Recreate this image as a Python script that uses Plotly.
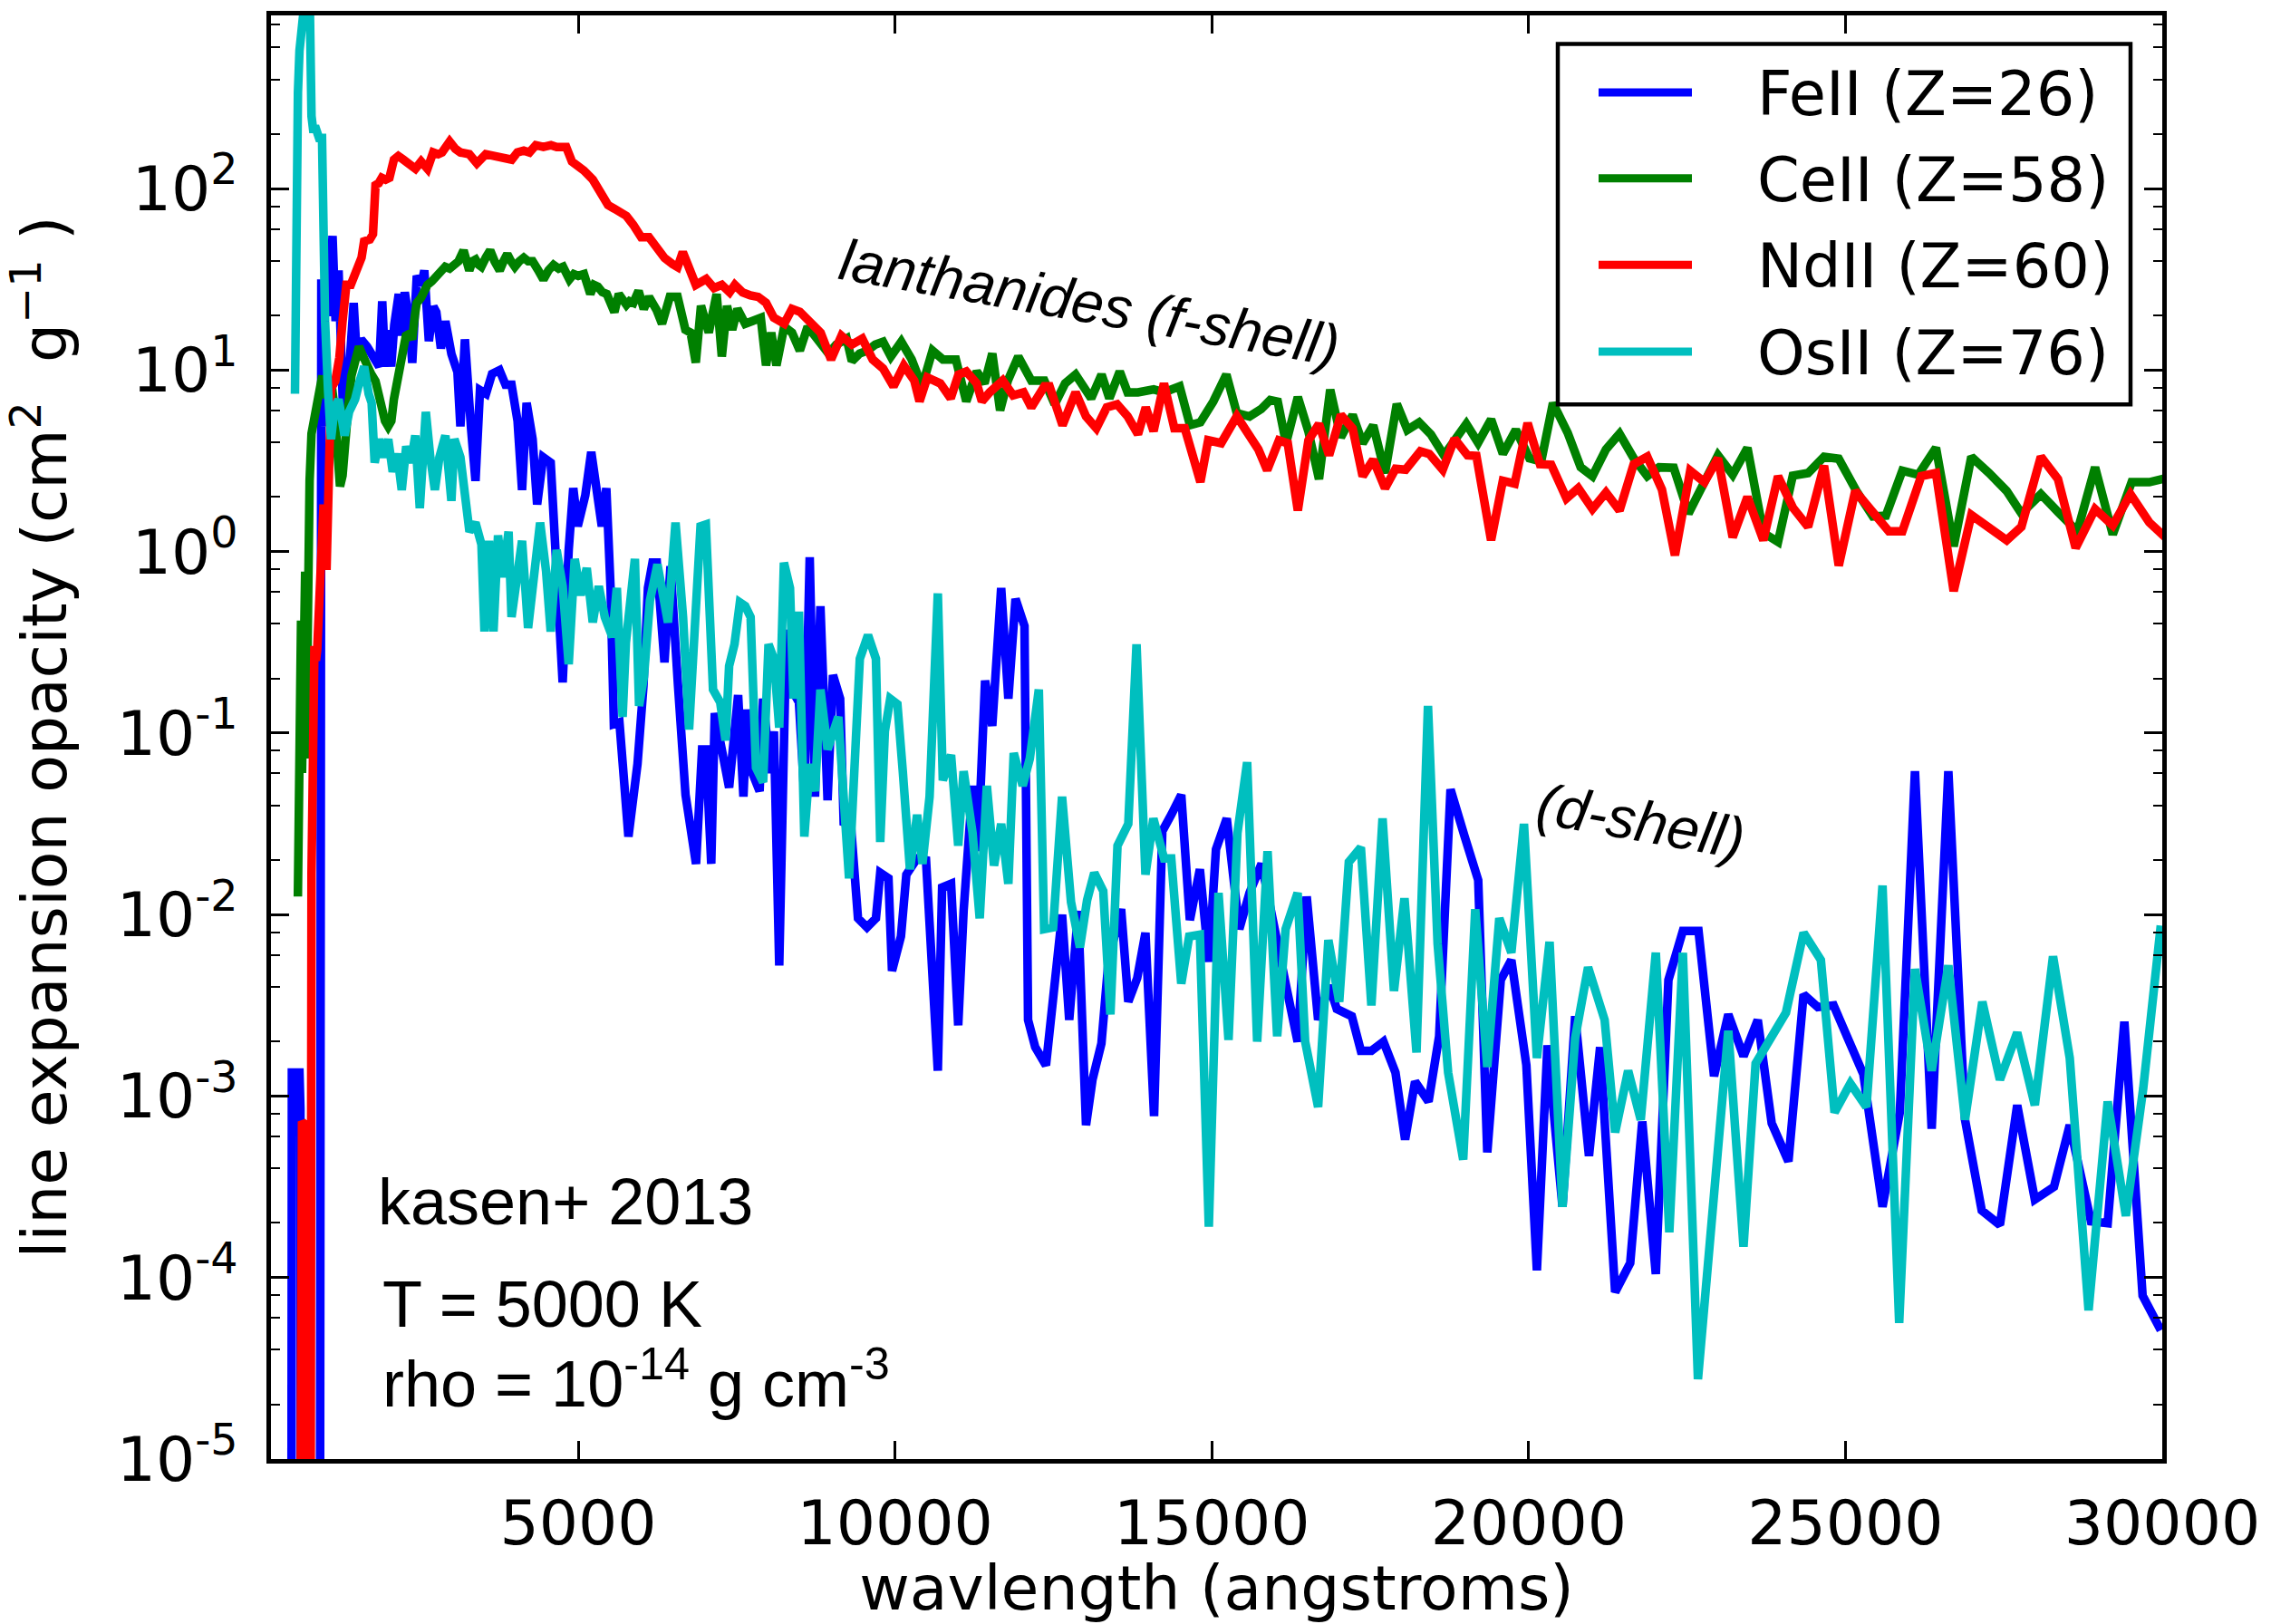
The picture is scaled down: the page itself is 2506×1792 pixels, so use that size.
import numpy as np
import plotly.graph_objects as go

# ---------------- data (wavelength in angstroms, log10 of opacity in cm^2/g) ----------------
fe_wave = [470, 480, 600, 615, 625, 920, 945, 980, 1004, 1060, 1122, 1170, 1217, 1241, 1288, 1360, 1383,
           1455, 1502, 1573, 1668, 1763, 1858, 1906, 1953, 2001, 2048, 2096, 2167, 2214, 2262, 2333, 2380,
           2452, 2523, 2570, 2642, 2713, 2760, 2832, 2903, 2998, 3093, 3140, 3211, 3306, 3378, 3449, 3544,
           3639, 3757, 3852, 3947, 4042, 4113, 4185, 4280, 4351, 4446, 4565, 4659, 4754, 4849, 4921, 4992,
           5111, 5205, 5277, 5372, 5443, 5510, 5562, 5650, 5792, 5935, 6029, 6100, 6172, 6240, 6361, 6456,
           6575, 6693, 6859, 6954,
           7014, 7099, 7155, 7268, 7381, 7523, 7607, 7664, 7749, 7862, 7918, 8031, 8088, 8172, 8285, 8370,
           8483, 8568, 8653, 8737, 8822, 8935, 9020, 9133, 9189, 9302, 9415, 9557, 9698, 9766, 9896, 9952,
           10093, 10178, 10348, 10489, 10574, 10675, 10743, 10884, 10997, 11082, 11223, 11308, 11421, 11534,
           11675, 11788, 11901, 12043, 12099, 12212, 12382, 12495, 12636, 12749, 12890, 13014, 13116, 13257,
           13370, 13568, 13681, 13822, 13952, 14088, 14218, 14359, 14517, 14653, 14811, 14952, 15065, 15235,
           15433, 15594, 15784, 16188, 16354, 16497, 16677, 16853, 16972, 17209, 17352, 17518, 17708, 17898,
           18050, 18207, 18420, 18587, 18767, 18990, 19204, 19347, 19560, 19727, 19964, 20130, 20297, 20534,
           20734, 20952, 21128, 21365, 21603, 21793, 22007, 22206, 22434, 22681, 22926, 23151, 23391, 23616,
           23836, 24100, 24339, 24564, 24813, 25283, 25585, 25858, 26097, 26361, 26624, 26887, 27151, 27438,
           27711, 27989, 28291, 28540, 28875, 29139, 29402, 29690, 29977]
fe_log_opacity = [-7, -2.87, -2.87, -3.07, -7, -7, 1.50, 0.69, 1.50, 1.30, 1.74, 1.27, 1.55, 1.30, 0.78, 0.87, 1.02,
                  1.37, 1.09, 1.17, 1.13, 1.07, 1.02, 1.38, 1.02, 1.22, 1.02, 1.25, 1.42, 1.19, 1.43, 1.27, 1.04,
                  1.52, 1.47, 1.55, 1.16, 1.35, 1.32, 1.12, 1.27, 1.09, 0.99, 0.69, 1.17, 0.69, 0.39, 0.89, 0.87,
                  0.98, 1.00, 0.92, 0.92, 0.72, 0.34, 0.82, 0.62, 0.26, 0.52, 0.49, -0.06, -0.72, 0.01, 0.35, 0.14,
                  0.31, 0.55, 0.39, 0.14, 0.35, -0.20, -0.95, -0.94, -1.57, -1.17, -0.74, -0.20, -0.06, -0.06, -0.61, -0.08,
                  -0.74, -1.34, -1.72, -1.09,
                  -1.09, -1.72, -0.89, -1.09, -1.30, -0.79, -1.35, -0.87, -1.22, -1.32, -0.81, -1.22, -0.99, -2.28, -0.43, -0.76,
                  -0.83, -1.34, -0.03, -1.35, -0.30, -1.37, -0.68, -0.81, -1.49, -1.50, -2.02, -2.07, -2.02, -1.77, -1.80, -2.31,
                  -2.12, -1.78, -1.69, -1.70, -2.18, -2.86, -1.85, -1.83, -2.61, -1.98, -1.29, -1.65, -0.71, -0.96,
                  -0.20, -0.81, -0.26, -0.41, -2.58, -2.73, -2.83, -2.48, -2.00, -2.58, -1.98, -3.16, -2.91, -2.71,
                  -2.25, -1.97, -2.48, -2.35, -2.10, -3.11, -1.54, -1.45, -1.34, -2.03, -1.75, -2.26, -1.64, -1.47,
                  -2.08, -1.88, -1.72, -2.42, -2.70, -1.90, -2.58, -2.39, -2.52, -2.56, -2.75, -2.75, -2.70, -2.87,
                  -3.24, -2.92, -3.03, -2.67, -1.31, -1.57, -1.81, -3.31, -2.36, -2.25, -2.83, -3.96, -2.72, -3.61,
                  -2.56, -3.33, -2.73, -4.08, -3.92, -3.14, -3.98, -2.36, -2.09, -2.09, -2.89, -2.55, -2.78, -2.58,
                  -3.15, -3.36, -2.44, -2.51, -2.50, -2.88, -3.61, -3.09, -1.21, -3.18, -1.21, -3.13, -3.63, -3.71,
                  -3.05, -3.57, -3.50, -3.16, -3.69, -3.70, -2.59, -4.10, -4.29]

ce_wave = [575, 585, 595, 610, 625, 640, 655, 670, 690, 705, 720, 740, 760, 790, 820, 850, 880, 920, 960, 1000,
           1050, 1100, 1150, 1200, 1240, 1280, 1320, 1370, 1420, 1480, 1540, 1600, 1660, 1730, 1800, 1850, 1900,
           1950, 2000, 2050, 2090, 2140, 2190, 2240, 2280, 2330, 2380, 2420, 2450, 2520, 2570, 2620, 2690, 2760,
           2830, 2900, 2970, 3040, 3110, 3190, 3230, 3280, 3330, 3380, 3430, 3470, 3540, 3610, 3680, 3760, 3820,
           3880, 3940, 4000, 4070, 4140, 4210, 4280, 4370, 4450, 4530, 4610, 4690, 4760, 4860, 4930, 5000, 5090,
           5190, 5250, 5310, 5380, 5450, 5510, 5570, 5640, 5700, 5760, 5810,
           5870, 5952, 6034, 6116, 6239, 6322, 6445, 6568, 6691, 6773, 6855, 6937, 7060, 7184, 7266, 7348, 7430,
           7512, 7635, 7758, 7881, 7964, 8046, 8128, 8251, 8374, 8497, 8620, 8744, 8949, 9072, 9236, 9318, 9441,
           9565, 9688, 9811, 9934, 10098, 10262, 10427, 10591, 10755, 10960, 11124, 11289, 11412, 11535, 11658,
           11781, 11945, 12151, 12356, 12520, 12684, 12849, 12972, 13095, 13259, 13382, 13546, 13670, 13834,
           14080, 14244, 14491, 14655, 14819, 15024, 15229, 15394,
           15594, 15780, 15920, 16040, 16171, 16357, 16524, 16691, 16868, 17036, 17222, 17380, 17547, 17733,
           17919, 18086, 18272, 18458, 18663, 18830, 19016, 19202, 19407, 19593, 19798, 20012, 20198, 20384,
           20616, 20821, 21007, 21220, 21434, 21658, 21872, 22058, 22290, 22523, 22755, 22988, 23220, 23453,
           23704, 23936, 24169, 24410, 24662, 24894, 25173, 25433, 25638, 25898, 26150, 26429, 26708, 26987,
           27266, 27545, 27777, 28084, 28354, 28661, 28940, 29219, 29517, 29796, 30101]
ce_log_opacity = [-1.90, -1.34, -0.58, -1.22, -0.38, -1.22, -0.38, -1.14, -0.11, -1.14, -0.10, 0.19, 0.39, 0.65, 0.72,
                  0.72, 0.80, 0.95, 0.97, 0.85, 0.88, 0.94, 0.80, 0.55, 0.36, 0.42, 0.64, 0.80, 0.97, 1.05, 1.13,
                  1.08, 1.02, 0.98, 0.94, 0.85, 0.77, 0.72, 0.69, 0.72, 0.84, 0.92, 1.02, 1.10, 1.19, 1.20, 1.17,
                  1.30, 1.37, 1.40, 1.44, 1.47, 1.49, 1.52, 1.54, 1.57, 1.56, 1.58, 1.60, 1.66, 1.60, 1.55, 1.60,
                  1.61, 1.58, 1.57, 1.62, 1.66, 1.60, 1.55, 1.60, 1.64, 1.60, 1.57, 1.60, 1.62, 1.60, 1.60, 1.55,
                  1.50, 1.55, 1.58, 1.56, 1.57, 1.50, 1.53, 1.52, 1.53, 1.42, 1.47, 1.46, 1.43, 1.42, 1.38, 1.32,
                  1.42, 1.38, 1.36, 1.38,
                  1.371, 1.437, 1.338, 1.404, 1.330, 1.256, 1.404, 1.404, 1.223, 1.207, 1.042, 1.355, 1.207, 1.420,
                  1.075, 1.355, 1.223, 1.338, 1.256, 1.272, 1.289, 1.026, 1.207, 1.026, 1.240, 1.207, 1.108, 1.240,
                  1.190, 1.092, 1.141, 1.174, 1.050, 1.092, 1.108, 1.141, 1.157, 1.075, 1.157, 1.059, 0.911, 1.108,
                  1.059, 1.059, 0.828, 0.993, 0.927, 1.092, 0.779, 0.943, 1.075, 0.943, 0.943, 0.812, 0.927, 0.976,
                  0.911, 0.845, 0.976, 0.845, 0.993, 0.878, 0.878, 0.894, 0.878, 0.911, 0.697, 0.713, 0.828, 0.976,
                  0.763,
                  0.745, 0.786, 0.836, 0.827, 0.597, 0.852, 0.663, 0.400, 0.893, 0.630, 0.753, 0.597, 0.696, 0.433,
                  0.814, 0.671, 0.712, 0.646, 0.531, 0.613, 0.704, 0.600, 0.729, 0.539, 0.671, 0.515, 0.498, 0.819,
                  0.655, 0.465, 0.416, 0.564, 0.650, 0.515, 0.416, 0.465, 0.462, 0.211, 0.367, 0.531, 0.424, 0.572,
                  0.104, 0.054, 0.419, 0.433, 0.523, 0.512, 0.334, 0.194, 0.199, 0.446, 0.424, 0.572, 0.030, 0.523,
                  0.433, 0.334, 0.211, 0.317, 0.219, 0.112, 0.465, 0.095, 0.383, 0.383, 0.408]

nd_wave = [600, 640, 690, 710, 770, 790, 836, 860, 880, 930, 980, 1027, 1060, 1098, 1165, 1230, 1280, 1340, 1410,
           1470, 1520, 1580, 1620, 1710, 1760, 1800, 1850, 1900, 1960, 2020, 2090, 2160, 2240, 2330, 2430, 2520,
           2620, 2710, 2790, 2850, 2970, 3060, 3140, 3280, 3400, 3540, 3660, 3800, 3950, 4040, 4140, 4230, 4330,
           4450, 4570, 4660, 4810, 4900, 5000, 5090, 5230, 5330, 5470, 5570, 5760, 5870,
           5993, 6116, 6239, 6363, 6486, 6568, 6650, 6732, 6855, 7019, 7143, 7266, 7389, 7471, 7594, 7717, 7840,
           7964, 8087, 8251, 8374, 8497, 8661, 8826, 8990, 9154, 9318, 9482, 9647, 9811, 9975, 10139, 10303,
           10386, 10509, 10714, 10878, 11001, 11124, 11289, 11371, 11494, 11699, 11863, 12028, 12151, 12356,
           12438, 12643, 12849, 13013, 13177, 13341, 13505, 13670, 13834, 13957, 14080, 14244, 14408, 14573,
           14819, 14942, 15147, 15394,
           15594, 15734, 15873, 16059, 16198, 16357, 16524, 16691, 16850, 17036, 17222, 17380, 17547, 17733,
           17900, 18058, 18291, 18431, 18644, 18830, 19035, 19175, 19407, 19593, 19779, 19984, 20179, 20356,
           20597, 20783, 21007, 21220, 21434, 21658, 21872, 22104, 22309, 22550, 22774, 22988, 23220, 23453,
           23704, 23936, 24169, 24410, 24662, 24894, 25154, 25433, 25685, 25898, 26196, 26429, 26708, 26987,
           27266, 27545, 27777, 28084, 28354, 28633, 28940, 29219, 29498, 29795, 30100]
nd_log_opacity = [-7, -3.14, -3.16, -7, -7, -1.77, -0.52, -0.60, -0.54, -0.10, 0.26, -0.10, 0.50, 0.90, 0.94, 1.07,
                  1.27, 1.47, 1.47, 1.53, 1.57, 1.62, 1.71, 1.72, 1.75, 2.02, 2.03, 2.06, 2.05, 2.06, 2.16, 2.18,
                  2.16, 2.14, 2.11, 2.15, 2.11, 2.20, 2.19, 2.20, 2.26, 2.22, 2.20, 2.19, 2.14, 2.19, 2.18, 2.18,
                  2.16, 2.20, 2.21, 2.20, 2.24, 2.23, 2.24, 2.23, 2.23, 2.15, 2.13, 2.10, 2.05, 2.00, 1.91, 1.89,
                  1.85, 1.80,
                  1.733, 1.733, 1.667, 1.618, 1.585, 1.568, 1.651, 1.585, 1.470, 1.503, 1.453, 1.470, 1.429, 1.470,
                  1.429, 1.412, 1.404, 1.371, 1.289, 1.256, 1.338, 1.322, 1.272, 1.207, 1.059, 1.190, 1.141, 1.174,
                  1.059, 1.009, 0.911, 1.026, 0.943, 0.828, 0.960, 0.927, 0.845, 0.976, 0.993, 0.927, 0.828, 0.878,
                  0.943, 0.861, 0.878, 0.795, 0.911, 0.911, 0.697, 0.878, 0.746, 0.680, 0.795, 0.812, 0.746, 0.647,
                  0.795, 0.664, 0.927, 0.680, 0.680, 0.384, 0.614, 0.598, 0.746,
                  0.646, 0.564, 0.449, 0.613, 0.597, 0.227, 0.613, 0.704, 0.531, 0.753, 0.679, 0.416, 0.507, 0.350,
                  0.457, 0.452, 0.553, 0.539, 0.452, 0.622, 0.531, 0.528, 0.063, 0.391, 0.375, 0.709, 0.482, 0.479,
                  0.293, 0.350, 0.235, 0.326, 0.227, 0.482, 0.523, 0.342, -0.020, 0.446, 0.383, 0.515, 0.079, 0.301,
                  0.063, 0.416, 0.243, 0.137, 0.474, -0.077, 0.334, 0.219, 0.112, 0.112, 0.416, 0.433, -0.217, 0.202,
                  0.137, 0.063, 0.137, 0.523, 0.400, 0.021, 0.235, 0.145, 0.317, 0.161, 0.063]

os_wave = [529, 540, 552, 576, 600, 624, 671, 719, 766, 790, 814, 861, 909, 956, 980, 1004, 1051, 1098, 1146,
           1217, 1265, 1312, 1383, 1478, 1550, 1621, 1692, 1739, 1787, 1858, 1929, 2001, 2072, 2143, 2214, 2285,
           2357, 2428, 2499, 2594, 2665, 2737, 2808, 2903, 2998, 3045, 3140, 3211, 3283, 3378, 3472, 3520, 3591,
           3662, 3734, 3805, 3900, 3947, 4042, 4113, 4208, 4303, 4398, 4493, 4565, 4659, 4754, 4849, 4944, 5039,
           5134, 5229, 5324, 5419, 5538, 5609, 5700, 5752, 5894, 5960, 6036, 6131, 6250, 6416, 6535, 6654, 6749,
           6844, 6930,
           7014, 7127, 7240, 7325, 7381, 7466, 7551, 7636, 7720, 7805, 7918, 8003, 8088, 8172, 8246, 8342, 8398,
           8483, 8568, 8653, 8737, 8822, 8935, 9105, 9274, 9331, 9444, 9573, 9698, 9766, 9839, 9924, 10037,
           10122, 10235, 10348, 10432, 10545, 10675, 10754, 10884, 10997, 11082, 11223, 11336, 11449, 11562,
           11675, 11788, 11873, 12014, 12127, 12269, 12353, 12495, 12636, 12777, 12918, 13031, 13144, 13286,
           13399, 13511, 13681, 13811, 13952, 14077, 14246, 14359, 14517, 14642, 14811, 14952, 15105, 15263,
           15404, 15557, 15715, 15879,
           16031, 16164, 16354, 16473, 16677, 16839, 17010, 17162, 17352, 17518, 17694, 17874, 18040, 18230,
           18411, 18563, 18729, 18967, 19157, 19347, 19537, 19727, 19926, 20130, 20330, 20534, 20734, 20938,
           21199, 21365, 21570, 21769, 22007, 22220, 22434, 22672,
           23151, 23391, 23582, 24061, 24339, 24612, 24828, 25077, 25331, 25585, 25848, 26097, 26361, 26624,
           26887, 27160, 27438, 27711, 27989, 28276, 28540, 28837, 29139, 29426, 29699, 29977]
os_log_opacity = [0.87, 1.57, 2.10, 2.53, 2.76, 2.90, 3.00, 3.00, 2.95, 2.40, 2.33, 2.33, 2.28, 2.28, 1.60, 1.27, 0.89,
                  0.62, 0.77, 0.84, 0.74, 0.64, 0.77, 0.84, 0.94, 1.02, 0.87, 0.82, 0.49, 0.62, 0.52, 0.62, 0.44,
                  0.54, 0.34, 0.58, 0.49, 0.64, 0.24, 0.77, 0.52, 0.34, 0.52, 0.64, 0.28, 0.62, 0.52, 0.26, 0.11,
                  0.16, 0.04, -0.44, 0.06, -0.44, 0.09, -0.14, 0.11, -0.36, -0.11, 0.06, -0.42, -0.11, 0.16, -0.11,
                  -0.44, 0.01, -0.19, -0.62, -0.04, -0.24, -0.09, -0.39, -0.19, -0.36, -0.47, -0.20, -0.91, -0.50,
                  -0.04, -0.85, -0.69, -0.27, -0.07, -0.39, 0.16, -0.36, -0.98, -0.39, 0.14,
                  0.15, -0.76, -0.83, -1.04, -0.63, -0.51, -0.28, -0.30, -0.36, -1.19, -1.27, -0.51, -0.59, -0.97,
                  -0.06, -0.20, -0.81, -0.33, -1.57, -1.17, -1.32, -0.76, -1.09, -0.91, -1.80, -1.35, -0.59, -0.46,
                  -0.59, -1.60, -0.99, -0.81, -0.84, -1.21, -1.75, -1.45, -1.72, -1.35, -0.23, -1.26, -1.12, -1.62,
                  -1.21, -1.55, -2.02, -1.29, -1.73, -1.50, -1.83, -1.11, -1.29, -1.14, -0.76, -2.08, -2.07, -1.35,
                  -1.93, -2.18, -1.92, -1.77, -1.87, -2.55, -1.62, -1.50, -0.51, -1.78, -1.47, -1.69, -1.69, -2.38,
                  -2.12, -2.11, -3.72, -1.88, -2.69, -1.55, -1.16, -2.70, -1.65,
                  -2.67, -2.08, -1.88, -2.70, -3.06, -2.14, -2.48, -1.71, -1.63, -2.50, -1.47, -2.42, -1.91, -2.76,
                  -0.85, -2.16, -2.87, -3.35, -1.97, -2.84, -2.02, -2.21, -1.50, -2.79, -2.15, -3.61, -2.68, -2.29,
                  -2.58, -3.20, -2.86, -3.13, -2.21, -3.75, -2.21, -4.56,
                  -2.64, -3.83, -2.82, -2.54, -2.10, -2.25, -3.09, -2.93, -3.06, -1.84, -4.25, -2.30, -2.86, -2.28,
                  -3.13, -2.48, -2.91, -2.65, -3.05, -2.23, -2.79, -4.18, -3.03, -3.66, -2.96, -2.06]

series_names = ["FeII (Z=26)", "CeII (Z=58)", "NdII (Z=60)", "OsII (Z=76)"]
series_colors = ["#0000ff", "#008000", "#ff0000", "#00bfbf"]

x_tick_vals = [5000, 10000, 15000, 20000, 25000, 30000]
x_tick_text = ["5000", "10000", "15000", "20000", "25000", "30000"]
y_tick_exponents = [-5, -4, -3, -2, -1, 0, 1, 2]

# ---------------- figure ----------------
W, H = 2506, 1792
ML, MR, MT, MB = 299, 120, 16, 162

fig = go.Figure()
waves = [fe_wave, ce_wave, nd_wave, os_wave]
logs = [fe_log_opacity, ce_log_opacity, nd_log_opacity, os_log_opacity]
for name, wv, lg, col in zip(series_names, waves, logs, series_colors):
    fig.add_trace(go.Scatter(
        x=wv, y=np.power(10.0, np.array(lg)), mode="lines", name=name,
        line=dict(color=col, width=9.5, shape="linear"), showlegend=False,
    ))

y_tick_vals = [10.0 ** e for e in y_tick_exponents]
y_tick_text = ["10<sup>%d</sup>" % e for e in y_tick_exponents]
minor_vals = [m * 10.0 ** e for e in range(-5, 3) for m in (2, 4, 6, 8)]

tickfont = dict(family="DejaVu Sans", size=68, color="black")

fig.update_xaxes(
    range=[150, 30000], tickmode="array", tickvals=x_tick_vals, ticktext=x_tick_text,
    ticks="inside", ticklen=20, tickwidth=2.5, tickcolor="black",
    showline=True, linewidth=4.5, linecolor="black", mirror="allticks",
    showgrid=False, zeroline=False, tickfont=tickfont, ticklabelstandoff=8,
    title=dict(text="wavlength (angstroms)", font=dict(family="DejaVu Sans", size=68, color="black"), standoff=12),
)
fig.update_yaxes(
    type="log", range=[-5, 2.955], tickmode="array", tickvals=y_tick_vals, ticktext=y_tick_text,
    ticks="inside", ticklen=20, tickwidth=2.5, tickcolor="black",
    showline=True, linewidth=4.5, linecolor="black", mirror="allticks",
    showgrid=False, zeroline=False, tickfont=tickfont, ticklabelstandoff=18,
    minor=dict(tickmode="array", tickvals=minor_vals, ticks="inside", ticklen=10, tickwidth=2, tickcolor="black", showgrid=False),
    title=dict(text="line expansion opacity (cm<sup>2</sup>  g<sup>\u22121</sup> )",
               font=dict(family="DejaVu Sans", size=68, color="black"), standoff=34),
)

# ---- legend drawn as box + sample lines + text ----
pw = W - ML - MR
ph = H - MT - MB
def px_x(x):
    return (x - ML) / pw
def px_y(y):
    return (H - MB - y) / ph

shapes = [dict(type="rect", xref="paper", yref="paper", x0=px_x(1719), x1=px_x(2351), y0=px_y(451), y1=px_y(48),
               line=dict(color="black", width=4.5), fillcolor="white", layer="above")]
annotations = []
legend_rows = [102, 198, 295, 392]
for name, col, yy in zip(series_names, series_colors, legend_rows):
    shapes.append(dict(type="line", xref="paper", yref="paper", x0=px_x(1764), x1=px_x(1867), y0=px_y(yy), y1=px_y(yy),
                       line=dict(color=col, width=9), layer="above"))
    annotations.append(dict(xref="paper", yref="paper", x=px_x(1937), y=px_y(yy + 2), xanchor="left", yanchor="middle",
                            text=name, showarrow=False, font=dict(family="DejaVu Sans", size=67, color="black")))

txt_font = dict(family="Liberation Sans", size=72, color="black")
annotations += [
    dict(xref="paper", yref="paper", x=px_x(415), y=px_y(1342), xanchor="left", yanchor="middle",
         text="kasen+ 2013", showarrow=False, font=txt_font),
    dict(xref="paper", yref="paper", x=px_x(420), y=px_y(1457), xanchor="left", yanchor="middle",
         text="T = 5000 K", showarrow=False, font=txt_font),
    dict(xref="paper", yref="paper", x=px_x(420), y=px_y(1540), xanchor="left", yanchor="middle",
         text="rho = 10<sup>-14</sup> g cm<sup>-3</sup>", showarrow=False, font=txt_font),
    dict(xref="paper", yref="paper", x=px_x(1202), y=px_y(337), xanchor="center", yanchor="middle",
         text="lanthanides (f-shell)", showarrow=False, textangle=10,
         font=dict(family="Liberation Sans", size=64, color="black", style="italic")),
    dict(xref="paper", yref="paper", x=px_x(1810), y=px_y(917), xanchor="center", yanchor="middle",
         text="(d-shell)", showarrow=False, textangle=10,
         font=dict(family="Liberation Sans", size=64, color="black", style="italic")),
]

fig.update_layout(
    width=W, height=H, margin=dict(l=ML, r=MR, t=MT, b=MB, pad=0),
    plot_bgcolor="white", paper_bgcolor="white",
    font=dict(family="DejaVu Sans", color="black"),
    shapes=shapes, annotations=annotations, showlegend=False,
)

fig.write_html("out.html")
